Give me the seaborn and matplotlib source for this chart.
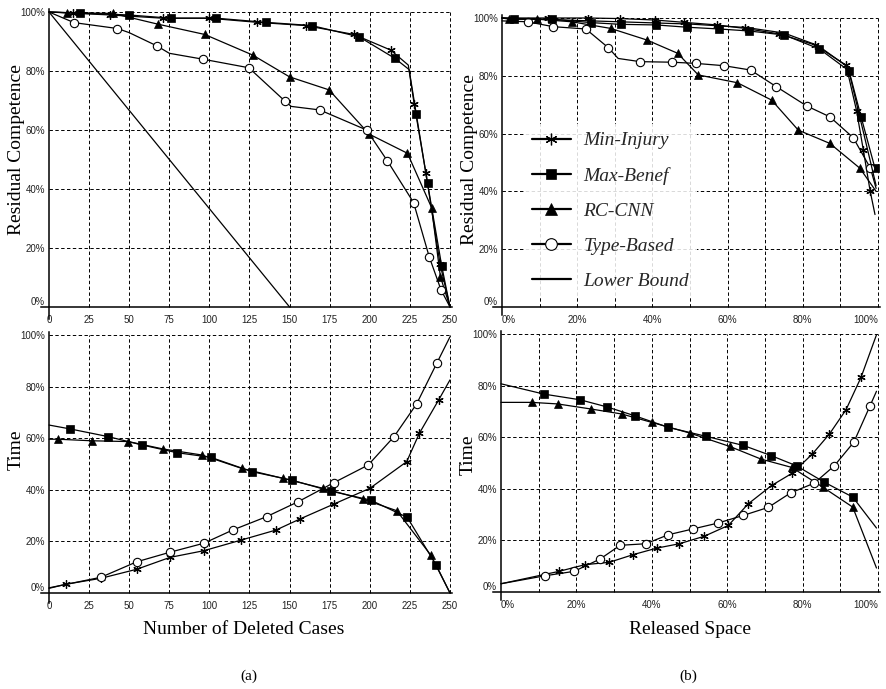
import matplotlib
matplotlib.use("Agg")
import matplotlib.pyplot as plt
from matplotlib import font_manager
from matplotlib.lines import Line2D
import seaborn as sns

# %% Data

deleted_ticks = [0, 25, 50, 75, 100, 125, 150, 175, 200, 225, 250]
space_ticks = [0, 20, 40, 60, 80, 100]
space_minor = [10, 30, 50, 70, 90]
pct_ticks = [0, 20, 40, 60, 80, 100]

names = ['Min-Injury', 'Max-Benef', 'RC-CNN', 'Type-Based', 'Lower Bound']

# (a) residual competence vs number of deleted cases
a_comp_min_x = [0, 14.8, 38, 70.8, 99.6, 129.8, 160, 190, 213, 224, 227.7, 235, 243.8, 250]
a_comp_min_y = [100, 99.6, 99, 97.9, 97.9, 96.5, 95.4, 92.4, 87.1, 82, 68.7, 45.3, 14.6, 0]
a_comp_max_x = [0, 19.4, 49.6, 76, 104.4, 135, 163.8, 193.3, 215.6, 224.5, 229, 236, 244.8, 250]
a_comp_max_y = [100, 99.6, 99, 97.9, 97.9, 96.5, 95.4, 91.6, 84.3, 80.5, 65.3, 41.9, 14, 0]
a_comp_rc_x = [0, 11, 40, 67.7, 97, 127, 150, 174.6, 199.6, 223.5, 238.5, 244, 250]
a_comp_rc_y = [100, 99.8, 99.5, 95.9, 92.4, 85.4, 78, 73.6, 58.6, 52.1, 33.7, 10.3, 0]
a_comp_type_x = [0, 15.6, 42.7, 50, 67.3, 75, 96, 124.6, 146.9, 151, 168.8, 198, 211, 227.3, 237, 244.4, 250]
a_comp_type_y = [100, 96.4, 94.4, 93, 88.5, 86, 84, 81.1, 69.9, 68, 66.8, 60, 49.5, 35.4, 17.1, 5.8, 0]
a_comp_low_x = [0, 150]
a_comp_low_y = [100, 0]

# (b) residual competence vs released space (%)
b_comp_min_x = [0, 12.3, 23, 31.4, 40.7, 48.4, 57.1, 64.6, 73.7, 83.2, 91.5, 94.3, 96.1, 97.9, 99.2]
b_comp_min_y = [100, 100, 100, 99.8, 99.3, 98.5, 97.6, 96.4, 94.5, 90.7, 83.7, 67.9, 54.3, 40.2, 32]
b_comp_max_x = [0, 3.3, 13.2, 23.7, 31.6, 41, 49.3, 57.8, 65.8, 75.1, 84.4, 92.3, 95.5, 99.2]
b_comp_max_y = [100, 99.6, 99.6, 98.4, 97.8, 97.6, 96.8, 96.2, 95.5, 94.1, 89.3, 81.7, 65.8, 48]
b_comp_rc_x = [0, 1.9, 9.2, 18.5, 28.9, 38.5, 46.7, 52.2, 62.6, 71.7, 78.8, 87.2, 95.2, 99.5]
b_comp_rc_y = [100, 99.6, 99.6, 98.7, 96.4, 92.4, 87.8, 80.3, 77.6, 71.6, 61.2, 56.6, 48, 40]
b_comp_type_x = [0, 6.8, 13.6, 22.3, 28.3, 30.9, 36.7, 45.3, 51.5, 59, 66.1, 73, 81, 87.2, 93.4, 98, 99.5]
b_comp_type_y = [99, 98.7, 97, 96.2, 89.7, 86, 84.9, 84.7, 84.3, 83.5, 82, 76.2, 69.6, 65.8, 58.6, 48, 41]
b_comp_low_x = [0, 50, 65, 75, 84, 92, 99.5]
b_comp_low_y = [100, 97.9, 96.7, 94.8, 90.5, 83, 42]

# (a) time vs number of deleted cases
a_time_max_x = [0, 13.1, 37, 57.8, 79.6, 100.8, 126.7, 151.7, 175.6, 200.5, 223.4, 241.3, 250]
a_time_max_y = [65.1, 63.6, 60.6, 57.4, 54.4, 52.6, 47, 43.7, 39.5, 36, 29.3, 10.9, 0]
a_time_rc_x = [0, 5.8, 26.6, 49.4, 71.3, 95.2, 120.1, 146.1, 170.6, 195.6, 216.8, 238, 250]
a_time_rc_y = [59.6, 59.6, 59, 58.7, 55.8, 53.5, 48.3, 44.4, 40.6, 36.4, 31.9, 14.7, 0]
a_time_min_x = [0, 10.6, 32.4, 54.7, 75.4, 96.6, 119.7, 141.5, 156.5, 177.7, 200.1, 223, 230.9, 242.9, 250]
a_time_min_y = [1.8, 3.4, 5.7, 9.2, 13.8, 16.4, 20.5, 24.4, 28.7, 34.5, 40.6, 50.9, 61.9, 74.8, 82.6]
a_time_type_x = [0, 32.4, 54.7, 75.4, 96.6, 114.5, 135.7, 155.4, 177.7, 199, 215.1, 229.2, 241.7, 250]
a_time_type_y = [2, 6.1, 12.1, 15.8, 19.3, 24.4, 29.6, 35.4, 42.8, 49.6, 60.6, 73.3, 89, 99.3]

# (b) time vs released space (%)
b_time_max_x = [0, 11.4, 21, 28.2, 35.5, 44.4, 54.5, 64.3, 71.6, 78.4, 85.7, 93.3, 99.6]
b_time_max_y = [80.7, 76.7, 74.5, 71.7, 68.3, 63.8, 60.3, 56.8, 52.9, 48.9, 42.6, 36.8, 24.8]
b_time_rc_x = [0, 8.1, 15, 24, 32, 40.1, 50.1, 60.7, 69, 77.1, 85.3, 93.3, 99.6]
b_time_rc_y = [73.5, 73.5, 72.9, 70.9, 69, 65.7, 61.6, 56.4, 51.5, 48.3, 40.7, 32.9, 9.3]
b_time_min_x = [0, 15.4, 22.3, 28.7, 35.1, 41.3, 47.3, 53.9, 60.3, 65.6, 71.8, 77.3, 82.6, 87.1, 91.5, 95.5, 99.6]
b_time_min_y = [3.2, 8, 10.6, 11.5, 14.5, 17, 18.7, 21.6, 25.8, 34.2, 41.3, 46.1, 53.5, 61.2, 70.6, 83.2, 99.7]
b_time_type_x = [0, 11.7, 19.4, 26.3, 31.6, 38.4, 44.4, 50.8, 57.5, 64.3, 70.9, 76.8, 83.1, 88.4, 93.6, 97.9, 99.6]
b_time_type_y = [3.2, 6.3, 8, 12.8, 18.1, 18.7, 22.2, 24.4, 26.7, 29.7, 32.8, 38.4, 42.2, 48.9, 58.1, 72.2, 77.8]

# %% Style

sns.set_style("white")
avail = {f.name for f in font_manager.fontManager.ttflist}
tick_font = 'Liberation Sans Narrow' if 'Liberation Sans Narrow' in avail else 'Liberation Sans'
serif = 'Liberation Serif'
plt.rcParams['font.family'] = [tick_font, 'DejaVu Sans']

styles = {
    'Min-Injury': dict(marker=(6, 2, 0), ms=6, mfc='k', mew=0.9),
    'Max-Benef': dict(marker='s', ms=5.5, mfc='k', mew=0.5),
    'RC-CNN': dict(marker='^', ms=6, mfc='k', mew=0.5),
    'Type-Based': dict(marker='o', ms=6, mfc='white', mew=0.8),
    'Lower Bound': dict(marker=None),
}

W, H = 886, 689
fig = plt.figure(figsize=(W / 100, H / 100), dpi=100)


def make_axes(x0, x1, xmax, y0, y1, xlo, ylo, xhi, yhi):
    sx = (x1 - x0) / xmax
    sy = (y0 - y1) / 100
    left, right = x0 + xlo * sx, x0 + xhi * sx
    bottom, top = y0 - ylo * sy, y0 - yhi * sy
    ax = fig.add_axes([left / W, 1 - bottom / H, (right - left) / W, (bottom - top) / H])
    ax.set_xlim(xlo, xhi)
    ax.set_ylim(ylo, yhi)
    return ax


def draw(ax, name, xs, ys, plain=(), mark_last=False):
    st = styles[name]
    skip = {0} | set(plain)
    if not mark_last:
        skip.add(len(xs) - 1)
    kw = {}
    if st['marker'] is not None:
        kw = dict(marker=st['marker'], markersize=st['ms'], markerfacecolor=st['mfc'],
                  markeredgecolor='k', markeredgewidth=st['mew'],
                  markevery=[i for i in range(len(xs)) if i not in skip])
    sns.lineplot(x=xs, y=ys, ax=ax, color='k', lw=0.9, sort=False, estimator=None, **kw)


def frame(ax, xmax, xticks, xlabels, minor=()):
    grid_x = list(xticks[1:]) + list(minor)
    ax.vlines(grid_x, 0, 100, colors='k', lw=0.7, linestyles=(0, (3.5, 2.5)), zorder=0)
    ax.hlines(pct_ticks[1:], 0, xmax, colors='k', lw=0.7, linestyles=(0, (3.5, 2.5)), zorder=0)
    for s in ['top', 'right']:
        ax.spines[s].set_visible(False)
    for s in ['left', 'bottom']:
        ax.spines[s].set_position(('data', 0))
        ax.spines[s].set_linewidth(1.1)
        ax.spines[s].set_color('k')
    ax.set_xticks(xticks)
    ax.set_xticklabels(xlabels)
    ax.set_xticks(list(minor), minor=True)
    ax.set_yticks(pct_ticks)
    ax.set_yticklabels([f'{v}%' for v in pct_ticks])
    ax.tick_params(axis='x', which='both', direction='in', length=4, width=0.8,
                   pad=6, labelsize=7, labelcolor='#222')
    ax.tick_params(axis='y', length=0, pad=3, labelsize=7, labelcolor='#222')
    ax.get_yticklabels()[0].set_va('bottom')
    ax.set_xlabel('')
    ax.set_ylabel('')


# %% Panels

ax_a1 = make_axes(49, 450, 250, 307, 12, -5, -4, 251, 101)
frame(ax_a1, 250, deleted_ticks, [str(v) for v in deleted_ticks])
draw(ax_a1, 'Min-Injury', a_comp_min_x, a_comp_min_y, plain=[9])
draw(ax_a1, 'Max-Benef', a_comp_max_x, a_comp_max_y, plain=[9])
draw(ax_a1, 'RC-CNN', a_comp_rc_x, a_comp_rc_y)
draw(ax_a1, 'Type-Based', a_comp_type_x, a_comp_type_y, plain=[3, 5, 9])
draw(ax_a1, 'Lower Bound', a_comp_low_x, a_comp_low_y)

ax_b1 = make_axes(502, 878, 100, 307, 18, -2.4, -2.8, 100.5, 101)
frame(ax_b1, 100, space_ticks, [f'{v}%' for v in space_ticks], minor=space_minor)
draw(ax_b1, 'Min-Injury', b_comp_min_x, b_comp_min_y)
draw(ax_b1, 'Max-Benef', b_comp_max_x, b_comp_max_y, mark_last=True)
draw(ax_b1, 'RC-CNN', b_comp_rc_x, b_comp_rc_y)
draw(ax_b1, 'Type-Based', b_comp_type_x, b_comp_type_y, plain=[5])
draw(ax_b1, 'Lower Bound', b_comp_low_x, b_comp_low_y)

ax_a2 = make_axes(49, 450, 250, 593, 335, -5, -4, 251, 101)
frame(ax_a2, 250, deleted_ticks, [str(v) for v in deleted_ticks])
draw(ax_a2, 'Max-Benef', a_time_max_x, a_time_max_y)
draw(ax_a2, 'RC-CNN', a_time_rc_x, a_time_rc_y)
draw(ax_a2, 'Min-Injury', a_time_min_x, a_time_min_y)
draw(ax_a2, 'Type-Based', a_time_type_x, a_time_type_y)

ax_b2 = make_axes(501, 878, 100, 592, 334, -2.1, -3, 100.5, 101)
frame(ax_b2, 100, space_ticks, [f'{v}%' for v in space_ticks], minor=space_minor)
draw(ax_b2, 'Max-Benef', b_time_max_x, b_time_max_y)
draw(ax_b2, 'RC-CNN', b_time_rc_x, b_time_rc_y)
draw(ax_b2, 'Min-Injury', b_time_min_x, b_time_min_y)
draw(ax_b2, 'Type-Based', b_time_type_x, b_time_type_y)

for ax in (ax_b1, ax_b2):
    labels = ax.get_xticklabels()
    labels[0].set_ha('left')
    labels[-1].set_ha('right')

# %% Legend

handles = []
for n in names:
    st = styles[n]
    if st['marker'] is None:
        handles.append(Line2D([], [], color='k', lw=1.6))
    else:
        handles.append(Line2D([], [], color='k', lw=1.6, marker=st['marker'],
                              markersize=st['ms'] * 1.4, markerfacecolor=st['mfc'],
                              markeredgecolor='k', markeredgewidth=st['mew']))
leg = ax_b1.legend(handles, names, loc='upper left', bbox_to_anchor=(524 / W, 1 - 124 / H),
                   bbox_transform=fig.transFigure, borderaxespad=0, borderpad=0.4,
                   handlelength=2.0, handletextpad=0.65, labelspacing=0.9, numpoints=1,
                   frameon=True, framealpha=0.85, facecolor='white', edgecolor='none',
                   fancybox=False, prop=dict(family=serif, style='italic', size=14))

# %% Labels

txt = dict(family=serif, color='k')
fig.text(17 / W, 1 - 150 / H, 'Residual Competence', rotation=90, ha='center', va='center', size=14, **txt)
fig.text(469 / W, 1 - 160 / H, 'Residual Competence', rotation=90, ha='center', va='center', size=14, **txt)
fig.text(16 / W, 1 - 450 / H, 'Time', rotation=90, ha='center', va='center', size=14, **txt)
fig.text(468 / W, 1 - 455 / H, 'Time', rotation=90, ha='center', va='center', size=14, **txt)
fig.text(244 / W, 1 - 629 / H, 'Number of Deleted Cases', ha='center', va='center', size=14, **txt)
fig.text(690 / W, 1 - 629 / H, 'Released Space', ha='center', va='center', size=14, **txt)
fig.text(249 / W, 1 - 676 / H, '(a)', ha='center', va='center', size=11, **txt)
fig.text(688 / W, 1 - 676 / H, '(b)', ha='center', va='center', size=11, **txt)

fig.savefig('out.png', dpi=100)
